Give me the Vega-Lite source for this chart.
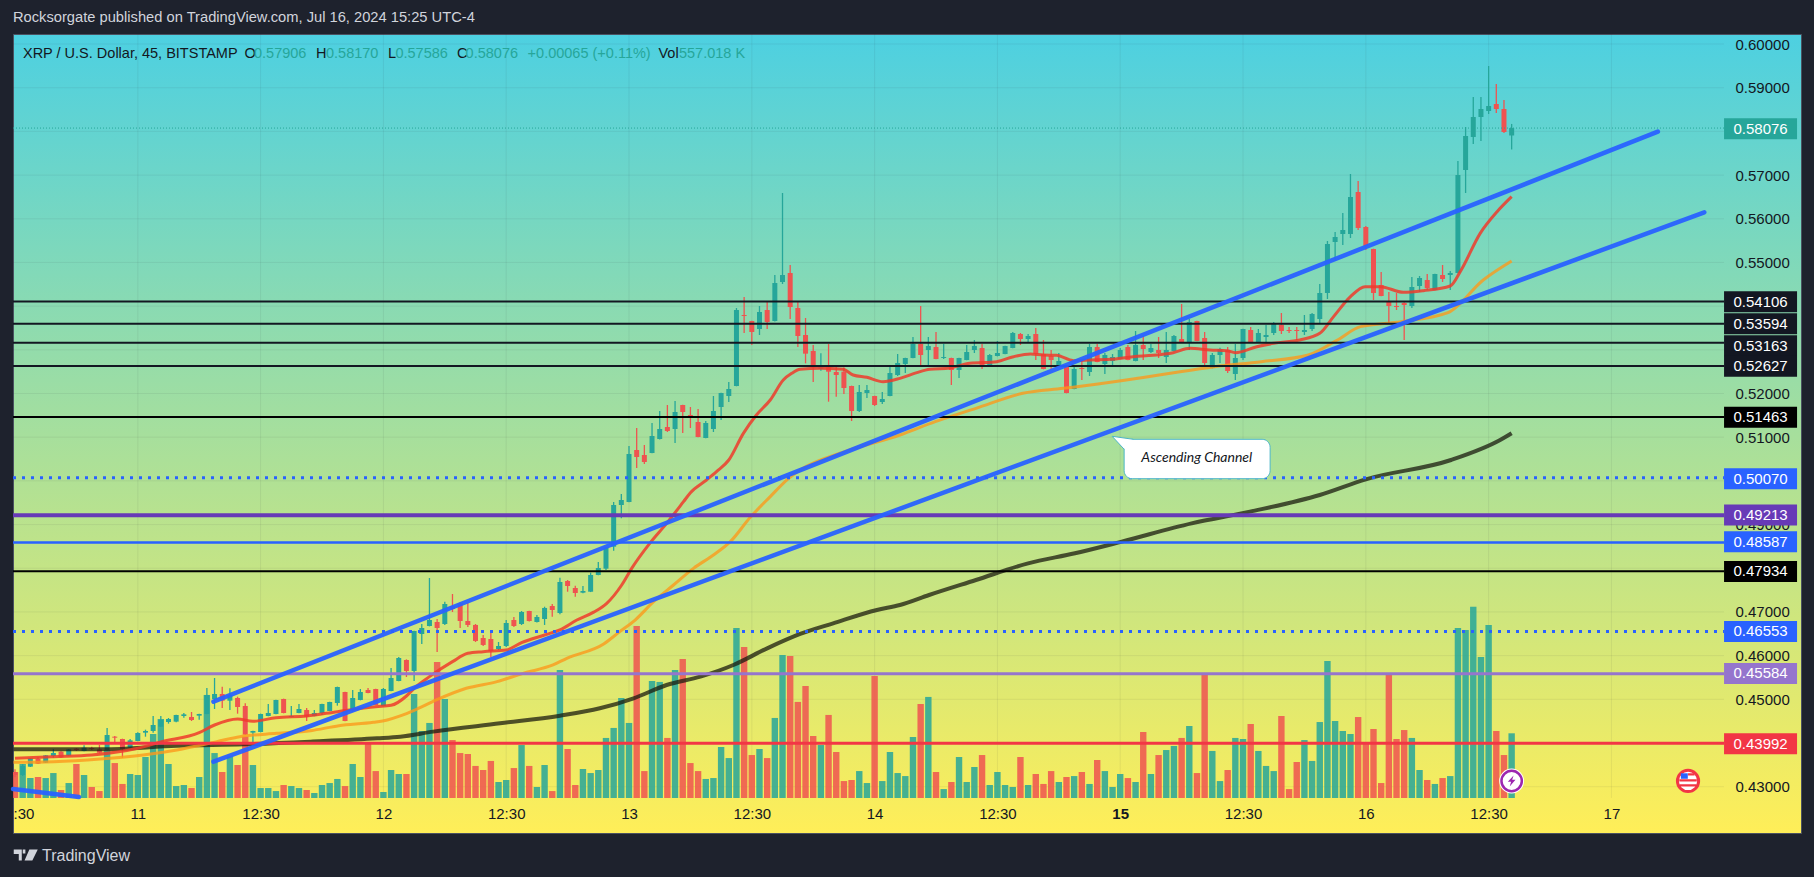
{
  "$schema": "https://vega.github.io/schema/vega-lite/v6.json",
  "width": 1788,
  "height": 799,
  "autosize": {"type": "none"},
  "padding": {"left": 13, "top": 34, "right": 13, "bottom": 44},
  "background": "#1E222D",
  "view": {
    "stroke": "#4A5160",
    "fill": {
      "gradient": "linear", "x1": 0, "y1": 0, "x2": 0, "y2": 1,
      "stops": [{"offset": 0, "color": "#4DD0E1"}, {"offset": 1, "color": "#FFEE58"}]
    }
  },
  "title": {
    "text": "Rocksorgate published on TradingView.com, Jul 16, 2024 15:25 UTC-4",
    "anchor": "start",
    "frame": "group",
    "color": "#D1D4DC",
    "font": "Liberation Sans",
    "fontSize": 14.7,
    "fontWeight": "normal",
    "offset": 9
  },
  "config": {
    "scale": {"continuousPadding": 0},
    "axis": {"title": null, "domain": false, "ticks": false, "grid": false, "labelFont": "Liberation Sans", "labelFontSize": 15, "labelColor": "#131722", "labelOverlap": false, "labelFlush": false, "labelBound": false},
    "text": {"font": "Liberation Sans", "fontSize": 14.5}
  },
  "datasets": {
    "bars": [
      {"i":-16,"o":0.43336,"h":0.43397,"l":0.43214,"c":0.43268,"v":224},
      {"i":-15,"o":0.43268,"h":0.43519,"l":0.43245,"c":0.43474,"v":293},
      {"i":-14,"o":0.43458,"h":0.43657,"l":0.43451,"c":0.43649,"v":172},
      {"i":-13,"o":0.43642,"h":0.43672,"l":0.4352,"c":0.43527,"v":181},
      {"i":-12,"o":0.4355,"h":0.43725,"l":0.43543,"c":0.43718,"v":172},
      {"i":-11,"o":0.43703,"h":0.43863,"l":0.43664,"c":0.43771,"v":215},
      {"i":-10,"o":0.43802,"h":0.4381,"l":0.43665,"c":0.43672,"v":69},
      {"i":-9,"o":0.4371,"h":0.43863,"l":0.43703,"c":0.43855,"v":129},
      {"i":-8,"o":0.4387,"h":0.43886,"l":0.43817,"c":0.4384,"v":293},
      {"i":-7,"o":0.43817,"h":0.43947,"l":0.4381,"c":0.43893,"v":198},
      {"i":-6,"o":0.43886,"h":0.43916,"l":0.4384,"c":0.43863,"v":95},
      {"i":-5,"o":0.43855,"h":0.43954,"l":0.43764,"c":0.43778,"v":60},
      {"i":-4,"o":0.4384,"h":0.44343,"l":0.43825,"c":0.44183,"v":413},
      {"i":-3,"o":0.44145,"h":0.4416,"l":0.44023,"c":0.44122,"v":301},
      {"i":-2,"o":0.44092,"h":0.44099,"l":0.43664,"c":0.43863,"v":121},
      {"i":-1,"o":0.43893,"h":0.44092,"l":0.43885,"c":0.44061,"v":207},
      {"i":0,"o":0.44046,"h":0.44244,"l":0.44038,"c":0.44229,"v":198},
      {"i":1,"o":0.44237,"h":0.44305,"l":0.44145,"c":0.44275,"v":353},
      {"i":2,"o":0.44275,"h":0.44618,"l":0.44237,"c":0.44412,"v":551},
      {"i":3,"o":0.44374,"h":0.44618,"l":0.44366,"c":0.44527,"v":680},
      {"i":4,"o":0.44481,"h":0.44572,"l":0.44443,"c":0.4455,"v":293},
      {"i":5,"o":0.44489,"h":0.44649,"l":0.44473,"c":0.44641,"v":103},
      {"i":6,"o":0.44618,"h":0.44687,"l":0.4458,"c":0.44656,"v":112},
      {"i":7,"o":0.44595,"h":0.4471,"l":0.44504,"c":0.44527,"v":86},
      {"i":8,"o":0.44626,"h":0.44671,"l":0.44534,"c":0.44664,"v":181},
      {"i":9,"o":0.44664,"h":0.45259,"l":0.44656,"c":0.45099,"v":887},
      {"i":10,"o":0.45007,"h":0.45488,"l":0.44778,"c":0.45122,"v":387},
      {"i":11,"o":0.45122,"h":0.4529,"l":0.44801,"c":0.44969,"v":224},
      {"i":12,"o":0.44969,"h":0.45251,"l":0.44756,"c":0.45099,"v":356},
      {"i":13,"o":0.4503,"h":0.45061,"l":0.44671,"c":0.44824,"v":284},
      {"i":14,"o":0.44847,"h":0.44908,"l":0.44183,"c":0.44191,"v":528},
      {"i":15,"o":0.44237,"h":0.44283,"l":0.44023,"c":0.44275,"v":284},
      {"i":16,"o":0.44252,"h":0.44672,"l":0.44244,"c":0.44664,"v":86},
      {"i":17,"o":0.44618,"h":0.44893,"l":0.4461,"c":0.44687,"v":86},
      {"i":18,"o":0.44664,"h":0.44992,"l":0.44656,"c":0.44985,"v":60},
      {"i":19,"o":0.45007,"h":0.45015,"l":0.44679,"c":0.44687,"v":112},
      {"i":20,"o":0.44595,"h":0.44847,"l":0.44589,"c":0.44618,"v":103},
      {"i":21,"o":0.44687,"h":0.44893,"l":0.44679,"c":0.44778,"v":86},
      {"i":22,"o":0.44756,"h":0.44801,"l":0.44504,"c":0.44603,"v":69},
      {"i":23,"o":0.44618,"h":0.44756,"l":0.4461,"c":0.44687,"v":43},
      {"i":24,"o":0.44687,"h":0.449,"l":0.44641,"c":0.44893,"v":112},
      {"i":25,"o":0.44733,"h":0.44946,"l":0.44725,"c":0.44939,"v":129},
      {"i":26,"o":0.44916,"h":0.4529,"l":0.44855,"c":0.45282,"v":164},
      {"i":27,"o":0.45167,"h":0.45175,"l":0.44496,"c":0.44504,"v":103},
      {"i":28,"o":0.44756,"h":0.45213,"l":0.4471,"c":0.4503,"v":293},
      {"i":29,"o":0.44985,"h":0.45236,"l":0.44977,"c":0.45167,"v":181},
      {"i":30,"o":0.45213,"h":0.45259,"l":0.45137,"c":0.45145,"v":465},
      {"i":31,"o":0.45236,"h":0.45244,"l":0.44862,"c":0.4487,"v":232},
      {"i":32,"o":0.44847,"h":0.45259,"l":0.4484,"c":0.45236,"v":52},
      {"i":33,"o":0.4519,"h":0.45717,"l":0.45183,"c":0.45488,"v":241},
      {"i":34,"o":0.45419,"h":0.45969,"l":0.45411,"c":0.45946,"v":207},
      {"i":35,"o":0.459,"h":0.45915,"l":0.45511,"c":0.45648,"v":207},
      {"i":36,"o":0.45649,"h":0.46572,"l":0.4542,"c":0.46564,"v":895},
      {"i":37,"o":0.46495,"h":0.46724,"l":0.46266,"c":0.46633,"v":577},
      {"i":38,"o":0.46678,"h":0.47777,"l":0.4667,"c":0.46816,"v":646},
      {"i":39,"o":0.4677,"h":0.46839,"l":0.46084,"c":0.46633,"v":1171},
      {"i":40,"o":0.46724,"h":0.47235,"l":0.467,"c":0.47182,"v":852},
      {"i":41,"o":0.47136,"h":0.47411,"l":0.46999,"c":0.47068,"v":499},
      {"i":42,"o":0.47205,"h":0.47228,"l":0.46633,"c":0.46793,"v":387},
      {"i":43,"o":0.46793,"h":0.47205,"l":0.46656,"c":0.46702,"v":379},
      {"i":44,"o":0.46702,"h":0.46724,"l":0.46312,"c":0.46336,"v":276},
      {"i":45,"o":0.46404,"h":0.46473,"l":0.46221,"c":0.46244,"v":241},
      {"i":46,"o":0.46381,"h":0.46518,"l":0.45969,"c":0.46106,"v":319},
      {"i":47,"o":0.46152,"h":0.46312,"l":0.46129,"c":0.46221,"v":138},
      {"i":48,"o":0.46221,"h":0.46816,"l":0.46198,"c":0.46747,"v":155},
      {"i":49,"o":0.46816,"h":0.46885,"l":0.46655,"c":0.46678,"v":258},
      {"i":50,"o":0.46724,"h":0.47022,"l":0.46701,"c":0.46999,"v":456},
      {"i":51,"o":0.47022,"h":0.4703,"l":0.4678,"c":0.46793,"v":276},
      {"i":52,"o":0.4677,"h":0.4693,"l":0.4676,"c":0.46885,"v":95},
      {"i":53,"o":0.46839,"h":0.4712,"l":0.46702,"c":0.47091,"v":284},
      {"i":54,"o":0.47136,"h":0.47182,"l":0.46892,"c":0.47045,"v":60},
      {"i":55,"o":0.46976,"h":0.47784,"l":0.4695,"c":0.47686,"v":1102},
      {"i":56,"o":0.47708,"h":0.47731,"l":0.47463,"c":0.47594,"v":422},
      {"i":57,"o":0.47548,"h":0.47601,"l":0.47349,"c":0.47434,"v":112},
      {"i":58,"o":0.47441,"h":0.47594,"l":0.4743,"c":0.4748,"v":250},
      {"i":59,"o":0.47463,"h":0.47899,"l":0.47455,"c":0.47846,"v":215},
      {"i":60,"o":0.47846,"h":0.48143,"l":0.47838,"c":0.48006,"v":241},
      {"i":61,"o":0.4799,"h":0.4848,"l":0.4796,"c":0.48471,"v":517},
      {"i":62,"o":0.48494,"h":0.49517,"l":0.48402,"c":0.49448,"v":603},
      {"i":63,"o":0.49448,"h":0.497,"l":0.49145,"c":0.49563,"v":861},
      {"i":64,"o":0.49517,"h":0.50799,"l":0.4951,"c":0.50615,"v":646},
      {"i":65,"o":0.50707,"h":0.51211,"l":0.50295,"c":0.50547,"v":1481},
      {"i":66,"o":0.50593,"h":0.50821,"l":0.50387,"c":0.50432,"v":232},
      {"i":67,"o":0.50638,"h":0.51325,"l":0.5063,"c":0.51027,"v":1007},
      {"i":68,"o":0.50959,"h":0.516,"l":0.5095,"c":0.51188,"v":999},
      {"i":69,"o":0.51234,"h":0.51737,"l":0.51119,"c":0.51142,"v":517},
      {"i":70,"o":0.51188,"h":0.51828,"l":0.50867,"c":0.51577,"v":1102},
      {"i":71,"o":0.51737,"h":0.51745,"l":0.51096,"c":0.51577,"v":1197},
      {"i":72,"o":0.51508,"h":0.51691,"l":0.51211,"c":0.51485,"v":301},
      {"i":73,"o":0.51348,"h":0.51646,"l":0.50996,"c":0.51004,"v":232},
      {"i":74,"o":0.50982,"h":0.51371,"l":0.50975,"c":0.51325,"v":164},
      {"i":75,"o":0.51188,"h":0.51943,"l":0.51119,"c":0.516,"v":172},
      {"i":76,"o":0.51691,"h":0.5202,"l":0.51394,"c":0.52012,"v":439},
      {"i":77,"o":0.51943,"h":0.52263,"l":0.51805,"c":0.52103,"v":344},
      {"i":78,"o":0.52172,"h":0.53957,"l":0.52165,"c":0.53911,"v":1464},
      {"i":79,"o":0.53797,"h":0.54209,"l":0.53385,"c":0.53774,"v":1300},
      {"i":80,"o":0.5366,"h":0.53668,"l":0.5311,"c":0.53408,"v":370},
      {"i":81,"o":0.53477,"h":0.54003,"l":0.53339,"c":0.53866,"v":422},
      {"i":82,"o":0.53911,"h":0.54095,"l":0.53477,"c":0.53637,"v":344},
      {"i":83,"o":0.5366,"h":0.54712,"l":0.5365,"c":0.54529,"v":689},
      {"i":84,"o":0.54552,"h":0.56589,"l":0.54507,"c":0.54712,"v":1231},
      {"i":85,"o":0.54758,"h":0.54941,"l":0.53705,"c":0.5398,"v":1223},
      {"i":86,"o":0.53957,"h":0.54095,"l":0.53065,"c":0.53316,"v":827},
      {"i":87,"o":0.53339,"h":0.53728,"l":0.52691,"c":0.52912,"v":964},
      {"i":88,"o":0.52973,"h":0.5311,"l":0.52263,"c":0.52599,"v":534},
      {"i":89,"o":0.52568,"h":0.52919,"l":0.52523,"c":0.52599,"v":456},
      {"i":90,"o":0.52599,"h":0.53133,"l":0.51813,"c":0.525,"v":715},
      {"i":91,"o":0.52492,"h":0.52614,"l":0.51927,"c":0.52423,"v":396},
      {"i":92,"o":0.525,"h":0.52599,"l":0.51989,"c":0.52126,"v":146},
      {"i":93,"o":0.52172,"h":0.5218,"l":0.51371,"c":0.516,"v":155},
      {"i":94,"o":0.516,"h":0.52195,"l":0.51577,"c":0.52035,"v":232},
      {"i":95,"o":0.52011,"h":0.52195,"l":0.51897,"c":0.5208,"v":129},
      {"i":96,"o":0.51943,"h":0.5195,"l":0.51714,"c":0.51737,"v":1050},
      {"i":97,"o":0.51805,"h":0.52034,"l":0.5176,"c":0.51874,"v":146},
      {"i":98,"o":0.51943,"h":0.52607,"l":0.51935,"c":0.52469,"v":396},
      {"i":99,"o":0.52423,"h":0.52904,"l":0.52401,"c":0.52698,"v":215},
      {"i":100,"o":0.52675,"h":0.5282,"l":0.52469,"c":0.52813,"v":189},
      {"i":101,"o":0.52813,"h":0.53293,"l":0.52805,"c":0.53133,"v":525},
      {"i":102,"o":0.53133,"h":0.54003,"l":0.52652,"c":0.52881,"v":809},
      {"i":103,"o":0.52996,"h":0.53293,"l":0.52652,"c":0.53087,"v":870},
      {"i":104,"o":0.53064,"h":0.53408,"l":0.52782,"c":0.5279,"v":224},
      {"i":105,"o":0.52813,"h":0.53133,"l":0.5279,"c":0.52835,"v":77},
      {"i":106,"o":0.52813,"h":0.5282,"l":0.52194,"c":0.52538,"v":138},
      {"i":107,"o":0.52538,"h":0.5282,"l":0.52355,"c":0.52813,"v":353},
      {"i":108,"o":0.52767,"h":0.5311,"l":0.5276,"c":0.5295,"v":138},
      {"i":109,"o":0.52996,"h":0.53225,"l":0.52927,"c":0.53087,"v":267},
      {"i":110,"o":0.53041,"h":0.53133,"l":0.52561,"c":0.52652,"v":370},
      {"i":111,"o":0.52652,"h":0.52904,"l":0.52645,"c":0.52881,"v":112},
      {"i":112,"o":0.52858,"h":0.53202,"l":0.5285,"c":0.52927,"v":224},
      {"i":113,"o":0.52904,"h":0.53095,"l":0.52896,"c":0.53087,"v":112},
      {"i":114,"o":0.53041,"h":0.53408,"l":0.53033,"c":0.53385,"v":95},
      {"i":115,"o":0.53362,"h":0.53385,"l":0.5311,"c":0.53248,"v":353},
      {"i":116,"o":0.53248,"h":0.53362,"l":0.53156,"c":0.53316,"v":112},
      {"i":117,"o":0.53362,"h":0.53499,"l":0.52767,"c":0.52904,"v":207},
      {"i":118,"o":0.52904,"h":0.53225,"l":0.52553,"c":0.52561,"v":121},
      {"i":119,"o":0.52858,"h":0.52996,"l":0.52561,"c":0.52767,"v":232},
      {"i":120,"o":0.52629,"h":0.52927,"l":0.52622,"c":0.52744,"v":138},
      {"i":121,"o":0.52607,"h":0.52614,"l":0.52004,"c":0.52011,"v":181},
      {"i":122,"o":0.52103,"h":0.52652,"l":0.52095,"c":0.52561,"v":189},
      {"i":123,"o":0.52584,"h":0.52767,"l":0.52309,"c":0.52561,"v":224},
      {"i":124,"o":0.52492,"h":0.53133,"l":0.52401,"c":0.53064,"v":121},
      {"i":125,"o":0.53064,"h":0.53133,"l":0.52713,"c":0.52721,"v":327},
      {"i":126,"o":0.52675,"h":0.52927,"l":0.52446,"c":0.52881,"v":232},
      {"i":127,"o":0.52744,"h":0.52904,"l":0.52652,"c":0.52835,"v":95},
      {"i":128,"o":0.5279,"h":0.53041,"l":0.52782,"c":0.52996,"v":207},
      {"i":129,"o":0.53064,"h":0.5311,"l":0.5276,"c":0.52767,"v":172},
      {"i":130,"o":0.52744,"h":0.53431,"l":0.52736,"c":0.5311,"v":138},
      {"i":131,"o":0.5311,"h":0.53316,"l":0.52767,"c":0.53019,"v":568},
      {"i":132,"o":0.5295,"h":0.53133,"l":0.52927,"c":0.53041,"v":207},
      {"i":133,"o":0.52996,"h":0.53293,"l":0.52813,"c":0.52927,"v":370},
      {"i":134,"o":0.52835,"h":0.53408,"l":0.52698,"c":0.52996,"v":413},
      {"i":135,"o":0.52973,"h":0.53339,"l":0.52965,"c":0.53316,"v":448},
      {"i":136,"o":0.53248,"h":0.54049,"l":0.53171,"c":0.53179,"v":517},
      {"i":137,"o":0.53179,"h":0.53705,"l":0.52996,"c":0.53637,"v":620},
      {"i":138,"o":0.5366,"h":0.53668,"l":0.53195,"c":0.53202,"v":215},
      {"i":139,"o":0.53271,"h":0.53408,"l":0.52653,"c":0.52698,"v":1059},
      {"i":140,"o":0.52584,"h":0.52927,"l":0.52576,"c":0.52881,"v":405},
      {"i":141,"o":0.52881,"h":0.53049,"l":0.52698,"c":0.53019,"v":146},
      {"i":142,"o":0.52996,"h":0.53065,"l":0.5247,"c":0.52515,"v":241},
      {"i":143,"o":0.52447,"h":0.53133,"l":0.52309,"c":0.52813,"v":517},
      {"i":144,"o":0.52813,"h":0.53485,"l":0.52767,"c":0.53477,"v":508},
      {"i":145,"o":0.53454,"h":0.53523,"l":0.53172,"c":0.53179,"v":637},
      {"i":146,"o":0.53179,"h":0.53477,"l":0.53172,"c":0.53385,"v":405},
      {"i":147,"o":0.53293,"h":0.53568,"l":0.53179,"c":0.53339,"v":276},
      {"i":148,"o":0.53385,"h":0.53637,"l":0.53339,"c":0.53591,"v":232},
      {"i":149,"o":0.53568,"h":0.53843,"l":0.53362,"c":0.53431,"v":706},
      {"i":150,"o":0.53454,"h":0.53523,"l":0.53385,"c":0.53431,"v":77},
      {"i":151,"o":0.53454,"h":0.53523,"l":0.53225,"c":0.53431,"v":310},
      {"i":152,"o":0.53408,"h":0.53797,"l":0.53339,"c":0.53454,"v":499},
      {"i":153,"o":0.53477,"h":0.53843,"l":0.53431,"c":0.5382,"v":319},
      {"i":154,"o":0.53706,"h":0.54507,"l":0.53614,"c":0.54301,"v":654},
      {"i":155,"o":0.54301,"h":0.55491,"l":0.54163,"c":0.55422,"v":1180},
      {"i":156,"o":0.55468,"h":0.55697,"l":0.55033,"c":0.55583,"v":663},
      {"i":157,"o":0.55651,"h":0.56132,"l":0.55399,"c":0.55743,"v":577},
      {"i":158,"o":0.55651,"h":0.57025,"l":0.5556,"c":0.56498,"v":551},
      {"i":159,"o":0.56613,"h":0.56864,"l":0.55743,"c":0.55789,"v":697},
      {"i":160,"o":0.55811,"h":0.55834,"l":0.55285,"c":0.55376,"v":474},
      {"i":161,"o":0.55308,"h":0.55316,"l":0.54141,"c":0.54301,"v":594},
      {"i":162,"o":0.54484,"h":0.54781,"l":0.54225,"c":0.54232,"v":129},
      {"i":163,"o":0.54095,"h":0.54324,"l":0.53591,"c":0.54003,"v":1059},
      {"i":164,"o":0.54003,"h":0.54301,"l":0.53912,"c":0.5398,"v":508},
      {"i":165,"o":0.54072,"h":0.54095,"l":0.53225,"c":0.54026,"v":585},
      {"i":166,"o":0.54003,"h":0.54667,"l":0.53957,"c":0.54438,"v":517},
      {"i":167,"o":0.54461,"h":0.5469,"l":0.54324,"c":0.54644,"v":241},
      {"i":168,"o":0.54598,"h":0.54736,"l":0.54369,"c":0.54415,"v":155},
      {"i":169,"o":0.54369,"h":0.54744,"l":0.54361,"c":0.54736,"v":121},
      {"i":170,"o":0.54713,"h":0.54942,"l":0.54553,"c":0.54621,"v":172},
      {"i":171,"o":0.54713,"h":0.54804,"l":0.54369,"c":0.54759,"v":189},
      {"i":172,"o":0.54759,"h":0.57322,"l":0.54751,"c":0.57002,"v":1464},
      {"i":173,"o":0.57116,"h":0.581,"l":0.5659,"c":0.57894,"v":1446},
      {"i":174,"o":0.57872,"h":0.58787,"l":0.57711,"c":0.58329,"v":1645},
      {"i":175,"o":0.58329,"h":0.58787,"l":0.5778,"c":0.58512,"v":1214},
      {"i":176,"o":0.58467,"h":0.59497,"l":0.58398,"c":0.58581,"v":1490},
      {"i":177,"o":0.58627,"h":0.59085,"l":0.58421,"c":0.58512,"v":577},
      {"i":178,"o":0.58512,"h":0.58719,"l":0.57963,"c":0.57986,"v":370},
      {"i":179,"o":0.57906,"h":0.5817,"l":0.57586,"c":0.58076,"v":557}
    ],
    "ma_red": [
      {"i":-16,"p":0.43649},{"i":-11,"p":0.43687},{"i":-6,"p":0.43725},{"i":0,"p":0.43878},{"i":3,"p":0.44023},{"i":8,"p":0.44237},{"i":10,"p":0.44412},{"i":13,"p":0.4455},{"i":15,"p":0.44496},{"i":18,"p":0.4458},{"i":22,"p":0.44618},{"i":26,"p":0.44717},{"i":31,"p":0.44832},{"i":33,"p":0.44862},{"i":35,"p":0.45076},
      {"i":36,"p":0.45252},{"i":38,"p":0.45519},{"i":41,"p":0.45862},{"i":43,"p":0.46053},{"i":45,"p":0.46091},{"i":48,"p":0.46129},{"i":50,"p":0.46297},{"i":53,"p":0.46473},{"i":55,"p":0.46587},{"i":57.2,"p":0.46815},
      {"i":59.4,"p":0.46996},{"i":61.1,"p":0.47197},{"i":63.05,"p":0.47617},{"i":64.35,"p":0.47998},{"i":66.7,"p":0.4857},{"i":68.9,"p":0.49028},{"i":71.1,"p":0.49524},{"i":72,"p":0.4973},{"i":74.1,"p":0.5002},{"i":75.4,"p":0.50211},{"i":77,"p":0.50478},{"i":78.9,"p":0.51088},{"i":80.6,"p":0.51508},{"i":82.4,"p":0.51851},{"i":84.1,"p":0.52309},{"i":85.2,"p":0.52462},{"i":86.3,"p":0.52553},
      {"i":88.9,"p":0.52576},{"i":91.9,"p":0.52553},{"i":93.2,"p":0.52423},{"i":95,"p":0.5237},{"i":97.1,"p":0.52271},{"i":99.3,"p":0.52347},{"i":101.5,"p":0.52477},{"i":103.2,"p":0.52553},{"i":105.8,"p":0.52584},{"i":108.4,"p":0.52691},{"i":111.9,"p":0.52729},{"i":114.1,"p":0.52843},{"i":116.3,"p":0.52904},{"i":118,"p":0.52881},{"i":119.7,"p":0.52874},{"i":121.9,"p":0.52752},{"i":124.1,"p":0.52767},{"i":126.7,"p":0.52782},{"i":129.7,"p":0.52843},{"i":132.3,"p":0.52874},{"i":134.9,"p":0.52935},{"i":137.1,"p":0.53034},
      {"i":139.7,"p":0.52996},{"i":141.9,"p":0.52981},{"i":143,"p":0.52935},{"i":145.8,"p":0.53072},{"i":148,"p":0.53149},{"i":151.4,"p":0.53225},{"i":154,"p":0.53378},{"i":155.8,"p":0.53759},{"i":158,"p":0.54217},{"i":159.9,"p":0.54446},{"i":161.9,"p":0.54446},{"i":164.9,"p":0.54316},{"i":167.5,"p":0.54354},{"i":171,"p":0.54461},{"i":172.3,"p":0.54789},{"i":174.9,"p":0.55666},{"i":177.1,"p":0.56162},{"i":179,"p":0.56506}
    ],
    "ma_orange": [
      {"i":-16.2,"p":0.43558},{"i":-11,"p":0.43573},{"i":-4.9,"p":0.43634},{"i":0.7,"p":0.43725},{"i":5.1,"p":0.4384},{"i":10.3,"p":0.44031},{"i":13.3,"p":0.44145},{"i":18.1,"p":0.44221},{"i":22.5,"p":0.44282},{"i":26.2,"p":0.44397},{"i":30.7,"p":0.44473},{"i":32.5,"p":0.44527},{"i":34.2,"p":0.44619},
      {"i":36.3,"p":0.44771},{"i":38.9,"p":0.44985},{"i":42.8,"p":0.45252},{"i":46.8,"p":0.45404},{"i":50.2,"p":0.45595},{"i":54.1,"p":0.45786},{"i":55.9,"p":0.45939},{"i":60.7,"p":0.46267},{"i":62.8,"p":0.46549},{"i":64.8,"p":0.46815},
      {"i":67.2,"p":0.47235},{"i":69.8,"p":0.47617},{"i":72.4,"p":0.47998},{"i":75,"p":0.48303},{"i":77.2,"p":0.48608},{"i":79.8,"p":0.49166},{"i":82.4,"p":0.49639},{"i":84.8,"p":0.50058},{"i":86.3,"p":0.50249},{"i":92,"p":0.50661},
      {"i":99.3,"p":0.5105},{"i":103.9,"p":0.51355},{"i":109.2,"p":0.5166},{"i":115.3,"p":0.52004},{"i":120.6,"p":0.52118},{"i":125.1,"p":0.52217},{"i":131.2,"p":0.5237},{"i":135.8,"p":0.525},{"i":140.3,"p":0.52614},{"i":146.4,"p":0.52729},{"i":152.5,"p":0.52881},{"i":156.3,"p":0.53224},{"i":159.3,"p":0.5353},{"i":164.6,"p":0.53644},{"i":170.7,"p":0.5385},{"i":175.3,"p":0.54598},{"i":179,"p":0.55033}
    ],
    "ma_olive": [
      {"i":-16.2,"p":0.43855},{"i":-4.5,"p":0.43855},{"i":5.1,"p":0.43939},{"i":13.8,"p":0.4397},{"i":22.5,"p":0.44031},{"i":31.2,"p":0.44107},{"i":34.2,"p":0.44145},{"i":38.5,"p":0.4426},{"i":47.2,"p":0.44451},{"i":55,"p":0.44626},{"i":60.2,"p":0.44794},{"i":64.6,"p":0.45023},{"i":68.9,"p":0.45328},{"i":73.3,"p":0.45519},{"i":77.6,"p":0.45786},{"i":82,"p":0.46167},{"i":86.3,"p":0.46496},{"i":90.6,"p":0.4674},{"i":96.3,"p":0.47045},{"i":99.3,"p":0.47159},{"i":103.1,"p":0.47388},{"i":109.2,"p":0.47731},{"i":116,"p":0.48113},{"i":122.1,"p":0.48342},{"i":128.2,"p":0.48609},{"i":137.3,"p":0.49028},{"i":144.9,"p":0.49296},{"i":154,"p":0.49677},{"i":160,"p":0.50036},{"i":171.1,"p":0.50478},{"i":177.5,"p":0.50936},{"i":179,"p":0.5109}
    ],
    "levels": [
      {"price":0.54106,"tag":0.541,"g":"dark"},
      {"price":0.53594,"tag":0.53595,"g":"dark"},
      {"price":0.53163,"tag":0.53094,"g":"dark"},
      {"price":0.52627,"tag":0.52623,"g":"dark"},
      {"price":0.51463,"tag":0.51455,"g":"black"},
      {"price":0.5007,"tag":0.5005,"g":"dotted"},
      {"price":0.49213,"tag":0.4922,"g":"purple"},
      {"price":0.48587,"tag":0.48606,"g":"blue"},
      {"price":0.47934,"tag":0.47926,"g":"black"},
      {"price":0.46553,"tag":0.46553,"g":"dotted"},
      {"price":0.45584,"tag":0.45592,"g":"lilac"},
      {"price":0.43992,"tag":0.43985,"g":"red"},
      {"price":0.58076,"tag":0.58061,"g":"last"}
    ],
    "channels": [
      {"line":"upper","i":9.86,"p":0.44946},{"line":"upper","i":198.05,"p":0.57993},
      {"line":"lower","i":9.86,"p":0.43572},{"line":"lower","i":204.1,"p":0.56148},
      {"line":"old","i":-16.26,"p":0.42948},{"line":"old","i":-7.66,"p":0.42764}
    ]
  },
  "resolve": {"scale": {"y": "independent"}},
  "layer": [
    {
      "layer": [
        {
          "mark": {"type": "rule", "color": "#2A2E39", "opacity": 0.07, "strokeWidth": 1},
          "data": {"values": [{"p":0.43},{"p":0.44},{"p":0.45},{"p":0.46},{"p":0.47},{"p":0.48},{"p":0.49},{"p":0.5},{"p":0.51},{"p":0.52},{"p":0.53},{"p":0.54},{"p":0.55},{"p":0.56},{"p":0.57},{"p":0.58},{"p":0.59},{"p":0.6}]},
          "encoding": {
            "x": {"datum": -16.26, "type": "quantitative", "scale": {"domain": [-16.26, 216.7], "nice": false, "zero": false, "padding": 0}},
            "x2": {"datum": 206.67},
            "y": {
              "field": "p", "type": "quantitative",
              "scale": {"domain": [0.4194, 0.60229], "nice": false, "zero": false},
              "axis": {"orient": "right", "offset": -66, "labelAlign": "left", "labelPadding": 0, "values": [0.43,0.45,0.46,0.47,0.49,0.51,0.52,0.55,0.56,0.57,0.59,0.6], "format": ".5f"}
            }
          }
        },
        {
          "mark": {"type": "rule", "color": "#2A2E39", "opacity": 0.07, "strokeWidth": 1},
          "data": {"values": [{"i":0},{"i":16},{"i":32},{"i":48},{"i":64},{"i":80},{"i":96},{"i":112},{"i":128},{"i":144},{"i":160},{"i":176},{"i":192}]},
          "encoding": {
            "x": {
              "field": "i", "type": "quantitative",
              "axis": {
                "orient": "bottom", "offset": -35, "labelPadding": 8,
                "values": [-14.9,0,16,32,48,64,80,96,112,128,144,160,176,192],
                "labelExpr": "datum.value<0?':30':datum.value%32==16?'12:30':''+(11+datum.value/32)",
                "labelFontWeight": {"condition": {"test": "datum.value==128", "value": "bold"}, "value": "normal"}
              }
            },
            "y": {"datum": 0.60229, "type": "quantitative"},
            "y2": {"datum": 0.42742}
          }
        }
      ]
    },
    {
      "data": {"name": "bars"},
      "layer": [
        {
          "mark": {"type": "rule", "strokeWidth": 1.3, "clip": true},
          "encoding": {
            "x": {"field": "i", "type": "quantitative"},
            "y": {"field": "l", "type": "quantitative", "scale": {"domain": [0.4194, 0.60229], "nice": false, "zero": false}, "axis": null},
            "y2": {"field": "h"},
            "color": {"condition": {"test": "datum.c>=datum.o", "value": "#26A69A"}, "value": "#EF5350"}
          }
        },
        {
          "mark": {"type": "bar", "orient": "vertical", "width": 5, "clip": true},
          "encoding": {
            "x": {"field": "i", "type": "quantitative"},
            "y": {"field": "o", "type": "quantitative", "axis": null},
            "y2": {"field": "c"},
            "color": {"condition": {"test": "datum.c>=datum.o", "value": "#26A69A"}, "value": "#EF5350"}
          }
        }
      ]
    },
    {
      "data": {"name": "bars"},
      "mark": {"type": "bar", "orient": "vertical", "width": 6.4, "opacity": 0.85, "clip": true},
      "encoding": {
        "x": {"field": "i", "type": "quantitative"},
        "y": {"field": "v", "type": "quantitative", "scale": {"domain": [-301, 6575], "nice": false, "zero": false}, "axis": null},
        "color": {"condition": {"test": "datum.c>=datum.o", "value": "#26A69A"}, "value": "#EF5350"}
      }
    },
    {
      "layer": [
        {
          "data": {"name": "ma_olive"},
          "mark": {"type": "line", "color": "#1B1B0F", "opacity": 0.75, "strokeWidth": 4, "interpolate": "monotone"},
          "encoding": {
            "x": {"field": "i", "type": "quantitative"},
            "y": {"field": "p", "type": "quantitative", "scale": {"domain": [0.4194, 0.60229], "nice": false, "zero": false}, "axis": null}
          }
        },
        {
          "data": {"name": "ma_orange"},
          "mark": {"type": "line", "color": "#FB9A1C", "opacity": 0.8, "strokeWidth": 3, "interpolate": "monotone"},
          "encoding": {
            "x": {"field": "i", "type": "quantitative"},
            "y": {"field": "p", "type": "quantitative", "axis": null}
          }
        },
        {
          "data": {"name": "ma_red"},
          "mark": {"type": "line", "color": "#EE3B2B", "opacity": 0.85, "strokeWidth": 3, "interpolate": "monotone"},
          "encoding": {
            "x": {"field": "i", "type": "quantitative"},
            "y": {"field": "p", "type": "quantitative", "axis": null}
          }
        },
        {
          "data": {"name": "levels"},
          "mark": {"type": "rule"},
          "encoding": {
            "x": {"datum": -16.26, "type": "quantitative"},
            "x2": {"datum": 206.67},
            "y": {"field": "price", "type": "quantitative", "axis": null},
            "color": {"field": "g", "type": "nominal", "legend": null, "scale": {"domain": ["dark","black","dotted","purple","blue","lilac","red","last"], "range": ["#131722","#000000","#2962FF","#673AB7","#2962FF","#9575CD","#F23645","#26A69A"]}},
            "size": {"field": "g", "type": "nominal", "legend": null, "scale": {"type": "ordinal", "domain": ["dark","black","dotted","purple","blue","lilac","red","last"], "range": [2,2,3,4,2.5,3,3,1]}},
            "strokeDash": {"field": "g", "type": "nominal", "legend": null, "scale": {"domain": ["dark","black","dotted","purple","blue","lilac","red","last"], "range": [[1,0],[1,0],[3,6],[1,0],[1,0],[1,0],[1,0],[1,2]]}}
          }
        },
        {
          "data": {"name": "channels"},
          "mark": {"type": "line", "color": "#2962FF", "opacity": 0.95, "strokeWidth": 4.5, "strokeCap": "round"},
          "encoding": {
            "x": {"field": "i", "type": "quantitative"},
            "y": {"field": "p", "type": "quantitative", "axis": null},
            "detail": {"field": "line"}
          }
        },
        {
          "data": {"name": "levels"},
          "mark": {"type": "rect", "width": 73, "height": 21},
          "encoding": {
            "x": {"datum": 211.43, "type": "quantitative"},
            "y": {"field": "tag", "type": "quantitative", "axis": null},
            "color": {"field": "g", "type": "nominal", "legend": null}
          }
        },
        {
          "data": {"name": "levels"},
          "mark": {"type": "text", "color": "#FFFFFF", "fontSize": 15, "align": "center", "baseline": "middle"},
          "encoding": {
            "x": {"datum": 211.43, "type": "quantitative"},
            "y": {"field": "tag", "type": "quantitative", "axis": null},
            "text": {"field": "price", "type": "quantitative", "format": ".5f"}
          }
        },
        {
          "data": {"values": [{"i":128.51,"i2":147.53,"top":0.50952,"bottom":0.5005}]},
          "mark": {"type": "rect", "fill": "#FFFFFF", "stroke": "#4DB6C8", "strokeWidth": 1, "cornerRadius": 8},
          "encoding": {
            "x": {"field": "i", "type": "quantitative"},
            "x2": {"field": "i2"},
            "y": {"field": "top", "type": "quantitative", "axis": null},
            "y2": {"field": "bottom"}
          }
        },
        {
          "data": {"values": [{"i":128.51,"p":0.50952}]},
          "mark": {"type": "point", "shape": "M0 .83L-1 -.25L.75 0", "size": 576, "fill": "#FFFFFF", "stroke": "#4DB6C8", "strokeWidth": 1, "opacity": 1},
          "encoding": {
            "x": {"field": "i", "type": "quantitative"},
            "y": {"field": "p", "type": "quantitative", "axis": null}
          }
        },
        {
          "data": {"values": [{"i":137.97,"p":0.50517,"label":"Ascending Channel"}]},
          "mark": {"type": "text", "color": "#131722", "fontStyle": "italic", "fontSize": 14, "font": "Lato", "align": "center", "baseline": "middle"},
          "encoding": {
            "x": {"field": "i", "type": "quantitative"},
            "y": {"field": "p", "type": "quantitative", "axis": null},
            "text": {"field": "label"}
          }
        },
        {
          "data": {"values": [
            {"i":-14.96,"p":0.59782,"label":"XRP / U.S. Dollar, 45, BITSTAMP"},
            {"i":13.9,"p":0.59782,"label":"O"},
            {"i":23.22,"p":0.59782,"label":"H"},
            {"i":32.59,"p":0.59782,"label":"L"},
            {"i":41.59,"p":0.59782,"label":"C"},
            {"i":67.84,"p":0.59782,"label":"Vol"}
          ]},
          "mark": {"type": "text", "color": "#131722", "align": "left", "baseline": "middle"},
          "encoding": {
            "x": {"field": "i", "type": "quantitative"},
            "y": {"field": "p", "type": "quantitative", "axis": null},
            "text": {"field": "label"}
          }
        },
        {
          "data": {"values": [
            {"i":15.14,"p":0.59782,"label":"0.57906"},
            {"i":24.52,"p":0.59782,"label":"0.58170"},
            {"i":33.57,"p":0.59782,"label":"0.57586"},
            {"i":42.71,"p":0.59782,"label":"0.58076"},
            {"i":50.79,"p":0.59782,"label":"+0.00065 (+0.11%)"},
            {"i":70.51,"p":0.59782,"label":"557.018 K"}
          ]},
          "mark": {"type": "text", "color": "#26A69A", "align": "left", "baseline": "middle"},
          "encoding": {
            "x": {"field": "i", "type": "quantitative"},
            "y": {"field": "p", "type": "quantitative", "axis": null},
            "text": {"field": "label"}
          }
        },
        {
          "data": {"values": [{"i":179,"p":0.43131}]},
          "layer": [
            {"mark": {"type": "point", "shape": "circle", "size": 616, "filled": true, "color": "#FFFFFF", "opacity": 1}, "encoding": {"x": {"field": "i", "type": "quantitative"}, "y": {"field": "p", "type": "quantitative", "axis": null}}},
            {"mark": {"type": "point", "shape": "circle", "size": 415, "fill": "#FFFFFF", "stroke": "#9C27B0", "strokeWidth": 2.5, "opacity": 1}, "encoding": {"x": {"field": "i", "type": "quantitative"}, "y": {"field": "p", "type": "quantitative", "axis": null}}},
            {"mark": {"type": "point", "shape": "M.35 -1L-.7 .15H-.1L-.35 1L.7 -.2H.1Z", "size": 120, "filled": true, "color": "#9C27B0", "opacity": 1}, "encoding": {"x": {"field": "i", "type": "quantitative"}, "y": {"field": "p", "type": "quantitative", "axis": null}}}
          ]
        },
        {
          "data": {"values": [{"i":201.98,"p":0.43131}]},
          "layer": [
            {"mark": {"type": "point", "shape": "circle", "size": 450, "fill": "#FFFFFF", "stroke": "#F23645", "strokeWidth": 3, "opacity": 1}, "encoding": {"x": {"field": "i", "type": "quantitative"}, "y": {"field": "p", "type": "quantitative", "axis": null}}},
            {"mark": {"type": "point", "shape": "M-.8 -.15H.8V.05H-.8ZM-.75 .3H.75V.5H-.75ZM0 -.7H.6V-.5H0Z", "size": 480, "filled": true, "color": "#F23645", "opacity": 1}, "encoding": {"x": {"field": "i", "type": "quantitative"}, "y": {"field": "p", "type": "quantitative", "axis": null}}},
            {"mark": {"type": "point", "shape": "M-.65 -.7H-.02V-.2H-.65Z", "size": 480, "filled": true, "color": "#2962FF", "opacity": 1}, "encoding": {"x": {"field": "i", "type": "quantitative"}, "y": {"field": "p", "type": "quantitative", "axis": null}}}
          ]
        },
        {
          "data": {"values": [{"i":-14.6,"p":0.41437}]},
          "mark": {"type": "point", "shape": "M-1 -.46H-.33V.46H-.58V-.08H-1ZM-.25 -.46H-.03V-.12H-.25ZM.3 -.46H1L.55 .46H-.1Z", "size": 576, "filled": true, "color": "#D1D4DC", "opacity": 1},
          "encoding": {
            "x": {"field": "i", "type": "quantitative"},
            "y": {"field": "p", "type": "quantitative", "axis": null}
          }
        },
        {
          "data": {"values": [{"i":-12.48,"p":0.41414,"label":"TradingView"}]},
          "mark": {"type": "text", "color": "#D1D4DC", "fontSize": 16, "align": "left", "baseline": "middle"},
          "encoding": {
            "x": {"field": "i", "type": "quantitative"},
            "y": {"field": "p", "type": "quantitative", "axis": null},
            "text": {"field": "label"}
          }
        }
      ]
    }
  ]
}
